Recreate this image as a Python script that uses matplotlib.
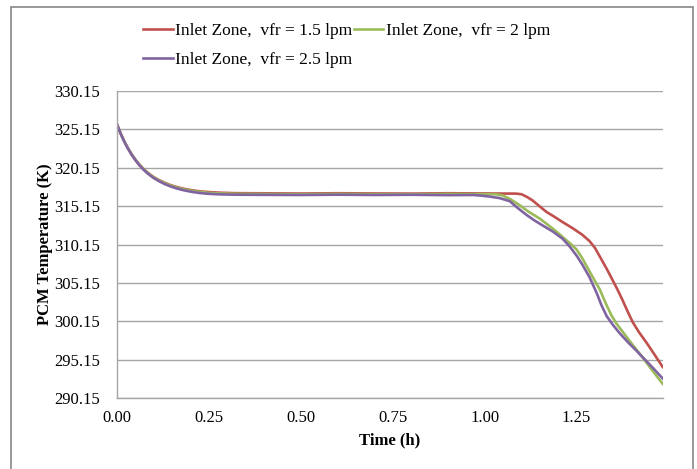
import matplotlib
matplotlib.use("Agg")
import matplotlib.pyplot as plt
from matplotlib.patches import Rectangle

plt.rcParams['font.family'] = ['Liberation Serif', 'DejaVu Serif']

# Time (h) and PCM temperature (K) for each flow rate
time_15 = [0.000, 0.010, 0.020, 0.030, 0.040, 0.050, 0.060, 0.070, 0.080, 0.090, 0.100, 0.115,
           0.130, 0.145, 0.160, 0.180, 0.200, 0.225, 0.250, 0.280, 0.320,
           0.400, 0.500, 0.600, 0.700, 0.800, 0.900, 1.000, 1.085, 1.100, 1.115, 1.130, 1.150,
           1.168, 1.190, 1.212, 1.240, 1.266, 1.285, 1.300, 1.320, 1.335, 1.348, 1.362, 1.375,
           1.390, 1.403, 1.420, 1.441, 1.462, 1.484]
temp_15 = [325.80, 324.62, 323.58, 322.68, 321.90, 321.22, 320.62, 320.10, 319.65, 319.27, 318.93, 318.53,
           318.18, 317.90, 317.67, 317.43, 317.25, 317.08, 316.98, 316.90, 316.84,
           316.82, 316.79, 316.83, 316.80, 316.78, 316.83, 316.80, 316.78, 316.70, 316.35, 315.90, 315.10,
           314.40, 313.75, 313.07, 312.25, 311.40, 310.60, 309.70, 308.00, 306.70, 305.50, 304.20, 302.90,
           301.30, 300.00, 298.70, 297.30, 295.80, 294.20]

time_20 = [0.000, 0.010, 0.020, 0.030, 0.040, 0.050, 0.060, 0.070, 0.080, 0.090, 0.100, 0.115,
           0.130, 0.145, 0.160, 0.180, 0.200, 0.225, 0.250, 0.280, 0.320,
           0.400, 0.500, 0.600, 0.700, 0.800, 0.900, 1.030, 1.048, 1.070, 1.095, 1.120, 1.149,
           1.175, 1.196, 1.215, 1.231, 1.250, 1.265, 1.280, 1.295, 1.313, 1.332, 1.345, 1.359,
           1.375, 1.394, 1.412, 1.430, 1.455, 1.484]
temp_20 = [325.80, 324.60, 323.56, 322.66, 321.87, 321.19, 320.59, 320.06, 319.61, 319.22, 318.88, 318.47,
           318.12, 317.84, 317.60, 317.35, 317.17, 317.00, 316.88, 316.80, 316.75,
           316.73, 316.70, 316.74, 316.71, 316.69, 316.74, 316.70, 316.55, 316.05, 315.28, 314.40, 313.55,
           312.60, 311.80, 311.00, 310.35, 309.50, 308.40, 307.10, 305.80, 304.30, 302.20, 300.90, 299.80,
           298.80, 297.60, 296.50, 295.40, 293.80, 292.00]

time_25 = [0.000, 0.010, 0.020, 0.030, 0.040, 0.050, 0.060, 0.070, 0.080, 0.090, 0.100, 0.115,
           0.130, 0.145, 0.160, 0.180, 0.200, 0.225, 0.250, 0.280, 0.320,
           0.400, 0.500, 0.600, 0.700, 0.800, 0.900, 0.970, 0.990, 1.013, 1.040, 1.068, 1.090,
           1.114, 1.135, 1.157, 1.185, 1.212, 1.231, 1.250, 1.266, 1.285, 1.304, 1.318, 1.332,
           1.350, 1.367, 1.390, 1.413, 1.435, 1.457, 1.484]
temp_25 = [325.80, 324.58, 323.53, 322.62, 321.83, 321.14, 320.53, 320.00, 319.54, 319.15, 318.80, 318.38,
           318.02, 317.73, 317.49, 317.23, 317.04, 316.86, 316.75, 316.68, 316.64,
           316.62, 316.60, 316.64, 316.60, 316.63, 316.58, 316.60, 316.52, 316.40, 316.20, 315.80, 314.90,
           314.00, 313.30, 312.65, 311.85, 310.90, 309.90, 308.70, 307.50, 305.90, 303.90, 302.20, 300.80,
           299.60, 298.60, 297.40, 296.30, 295.20, 294.10, 292.70]

series = [
    (time_15, temp_15, 'Inlet Zone,  vfr = 1.5 lpm', '#C0504D'),
    (time_20, temp_20, 'Inlet Zone,  vfr = 2 lpm', '#9BBB59'),
    (time_25, temp_25, 'Inlet Zone,  vfr = 2.5 lpm', '#8064A2'),
]

y_ticks = [290.15, 295.15, 300.15, 305.15, 310.15, 315.15, 320.15, 325.15, 330.15]
x_ticks = [0.00, 0.25, 0.50, 0.75, 1.00, 1.25]

fig = plt.figure(figsize=(6.97, 4.69), dpi=100)
ax = fig.add_axes([117 / 697, 1 - 398 / 469, 546 / 697, 307 / 469])

handles = []
for t, temp, label, color in series:
    line, = ax.plot(t, temp, color=color, linewidth=1.9, label=label)
    handles.append(line)

ax.set_xlim(0, 1.485)
ax.set_ylim(y_ticks[0], y_ticks[-1])
ax.set_yticks(y_ticks)
ax.set_yticklabels(['%.2f' % v for v in y_ticks])
ax.set_xticks(x_ticks)
ax.set_xticklabels(['%.2f' % v for v in x_ticks])
ax.tick_params(axis='y', length=0, pad=12, labelsize=12)
ax.tick_params(axis='x', length=0, pad=9, labelsize=12)

ax.grid(axis='y', color='#A6A6A6', linewidth=1.0)
ax.set_axisbelow(True)
for side in ['top', 'right']:
    ax.spines[side].set_visible(False)
for side in ['left', 'bottom']:
    ax.spines[side].set_color('#A6A6A6')
    ax.spines[side].set_linewidth(1.0)

ax.set_xlabel('Time (h)', fontsize=12, fontweight='bold', labelpad=4)
ax.set_ylabel('PCM Temperature (K)', fontsize=12, fontweight='bold', labelpad=1)

# legend: two entries on the first row, one on the second
fig.legend([handles[0], handles[2], handles[1]],
           [handles[0].get_label(), handles[2].get_label(), handles[1].get_label()],
           loc='upper left', bbox_to_anchor=(143 / 697, 1 - 23 / 469), ncol=2,
           frameon=False, fontsize=12.5, handlelength=1.7, handletextpad=0.15,
           columnspacing=0.1, labelspacing=0.72, borderaxespad=0, borderpad=0)

# outer chart border
fig.patches.append(Rectangle((11 / 697, -0.01), 682 / 697, 1 - 7 / 469 + 0.01,
                             transform=fig.transFigure, fill=False,
                             edgecolor='#888888', linewidth=1.2))

fig.savefig('out.png', dpi=100)
